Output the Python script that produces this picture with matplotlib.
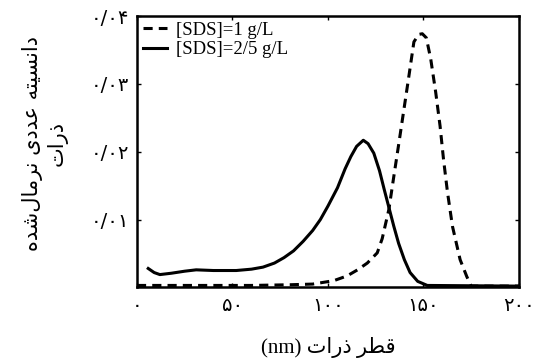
import matplotlib
matplotlib.use('Agg')
import matplotlib.pyplot as plt
from matplotlib import rcParams

# Persian letters -> presentation forms (iso, fin, ini, med)
FORMS = {
    'ا': '\ufe8d\ufe8e', 'د': '\ufea9\ufeaa', 'ذ': '\ufeab\ufeac', 'ر': '\ufead\ufeae',
    'ن': '\ufee5\ufee6\ufee7\ufee8', 'س': '\ufeb1\ufeb2\ufeb3\ufeb4',
    'ی': '\ufeef\ufef0\ufef3\ufef4', 'ت': '\ufe95\ufe96\ufe97\ufe98',
    'ه': '\ufee9\ufeea\ufeeb\ufeec', 'ع': '\ufec9\ufeca\ufecb\ufecc',
    'م': '\ufee1\ufee2\ufee3\ufee4', 'ل': '\ufedd\ufede\ufedf\ufee0',
    'ش': '\ufeb5\ufeb6\ufeb7\ufeb8', 'ق': '\ufed5\ufed6\ufed7\ufed8',
    'ط': '\ufec1\ufec2\ufec3\ufec4',
}


def rtl(s):
    """Shape Persian text and put it in visual (left-to-right) order."""
    out = []
    for i, c in enumerate(s):
        if c not in FORMS:
            if c != '\u200c':
                out.append(c)
            continue
        f = FORMS[c]
        prev = i > 0 and s[i - 1] in FORMS and len(FORMS[s[i - 1]]) == 4
        nxt = len(f) == 4 and i + 1 < len(s) and s[i + 1] in FORMS
        out.append(f[(1 if prev else 0) + (2 if nxt else 0)])
    return ''.join(reversed(out))


# data
x_sds1 = [0, 20, 40, 60, 80, 92, 103, 110, 115.5, 120.6, 125.8, 128.4, 131.9, 134.5, 137.2,
          139.8, 142.4, 145, 147.5, 149.4, 151.5, 153.8, 156.4, 158.7, 160.5, 162.6, 165.2,
          169.2, 172.7, 175, 200]
y_sds1 = [.0003, .0003, .0003, .0003, .0004, .0005, .0010, .0017, .0026, .0036, .0051, .0072,
          .0115, .0164, .0214, .0263, .0312, .0362, .0373, .0374, .0368, .0337, .0288, .0238,
          .0189, .0140, .0090, .0041, .0016, .0002, .0002]

x_sds25 = [5.9, 9, 12, 18, 25, 31, 40, 52, 60, 66, 72, 77, 82, 87, 92, 96, 100, 105, 109, 112,
           115, 118.5, 121, 124, 127, 129.5, 132, 134.5, 137, 140, 143, 147, 152, 200]
y_sds25 = [.0028, .0022, .0019, .0021, .0024, .0026, .0025, .0025, .0027, .0030, .0036, .0044,
           .0054, .0068, .0084, .0100, .0120, .0147, .0175, .0193, .0208, .0217, .0212, .0198,
           .0172, .0144, .0117, .0090, .0065, .0041, .0022, .0009, .0003, .0002]

x_ticks = [0, 50, 100, 150, 200]
x_ticklabels = ['۰', '۵۰', '۱۰۰', '۱۵۰', '۲۰۰']
y_ticks = [0.01, 0.02, 0.03, 0.04]
y_ticklabels = ['۰/۰۱', '۰/۰۲', '۰/۰۳', '۰/۰۴']

rcParams['font.family'] = ['Liberation Serif', 'DejaVu Sans']

fig = plt.figure(figsize=(5.35, 3.58), dpi=100)
ax = fig.add_axes([0.256, 0.197, 0.714, 0.758])

ax.plot(x_sds1, y_sds1, color='black', lw=2.2, linestyle=(0, (3, 2)), label='[SDS]=1 g/L')
ax.plot(x_sds25, y_sds25, color='black', lw=2.2, label='[SDS]=2/5 g/L')

ax.set_xlim(0, 200)
ax.set_ylim(0, 0.04)
ax.set_xticks(x_ticks)
ax.set_xticklabels(x_ticklabels, family='DejaVu Sans', fontsize=14)
ax.set_yticks(y_ticks)
ax.set_yticklabels(y_ticklabels, family='DejaVu Sans', fontsize=14)
ax.tick_params(direction='in', top=True, right=True, length=3, width=1, pad=6)
for sp in ax.spines.values():
    sp.set_linewidth(1.8)

ax.set_xlabel('(nm) ' + rtl('قطر ذرات'), family=['Liberation Serif', 'DejaVu Sans'],
              fontsize=15, labelpad=16)
fig.text(0.084, 0.60, rtl('دانسیته عددی نرمال\u200cشده') + '\n' + rtl('ذرات'),
         rotation=90, ha='center', va='center', multialignment='center',
         family='DejaVu Sans', fontsize=15, linespacing=1.2)

ax.legend(loc='upper left', frameon=False, fontsize=13.5, handlelength=1.3,
          handletextpad=0.5, labelspacing=0.12, borderaxespad=0.0, borderpad=0.3)

fig.savefig('out.png', dpi=100)
